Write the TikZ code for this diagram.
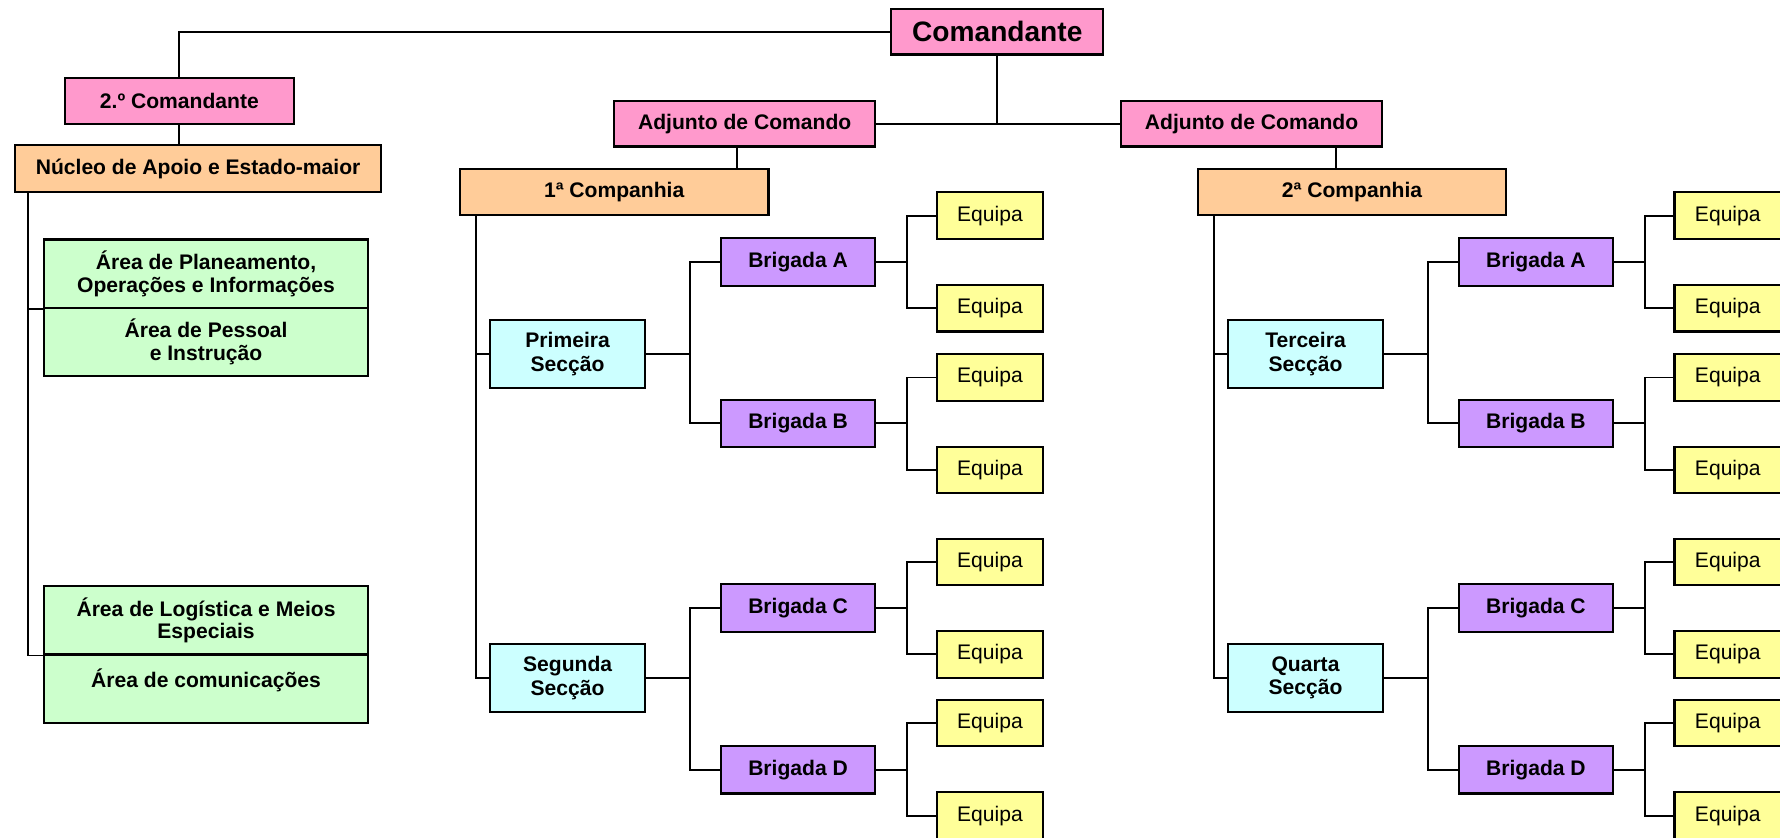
\documentclass[tikz,border=0pt]{standalone}
\usepackage{fontspec}
\setmainfont{Liberation Sans}
\definecolor{pinkbox}{HTML}{FF99CC}
\definecolor{orangebox}{HTML}{FFCC99}
\definecolor{greenbox}{HTML}{CCFFCC}
\definecolor{cyanbox}{HTML}{CCFFFF}
\definecolor{purplebox}{HTML}{CC99FF}
\definecolor{yellowbox}{HTML}{FFFF99}
\begin{document}
\begin{tikzpicture}[
    x=0.022704cm, y=-0.022704cm,
    box/.style={rectangle, draw=black, line width=1.2pt, inner sep=1pt, align=center,
        font=\fontsize{12}{13.5}\selectfont\bfseries},
    chefe/.style={box, fill=pinkbox, minimum height=0.908cm},
    nucleo/.style={box, fill=orangebox, minimum width=7.333cm, minimum height=0.931cm},
    area/.style={box, fill=greenbox, minimum width=6.471cm, minimum height=1.362cm,
        font=\fontsize{12}{13}\selectfont\bfseries},
    comp/.style={box, fill=orangebox, minimum width=6.175cm, minimum height=0.908cm},
    sec/.style={box, fill=cyanbox, minimum width=3.088cm, minimum height=1.362cm},
    brig/.style={box, fill=purplebox, minimum width=3.088cm, minimum height=0.954cm},
    eq/.style={box, fill=yellowbox, minimum width=2.134cm, minimum height=0.931cm,
        font=\fontsize{12}{13.5}\selectfont},
    line/.style={line width=1.1pt}
]
    \clip (0,0) rectangle (1568,738);

    % Command
    \node[chefe, minimum width=4.246cm, font=\fontsize{16}{18}\selectfont\bfseries] (cmd) at (878.5,28) {Comandante};
    \node[chefe, minimum width=4.586cm] (cmd2) at (158,89) {2.º Comandante};
    \node[chefe, minimum width=5.222cm] (adj1) at (656,109) {Adjunto de Comando};
    \node[chefe, minimum width=5.222cm] (adj2) at (1102.5,109) {Adjunto de Comando};

    \draw[line] (cmd.west) -| (cmd2.north);
    \draw[line] (adj1.east) -- (adj2.west);
    \draw[line] (cmd.south) -- (cmd.south |- adj1.east);

    % Support staff
    \node[nucleo] (nuc) at (174.5,148.5) {Núcleo de Apoio e Estado-maior};
    \node[area] (plan) at (181.5,241) {Área de Planeamento,\\Operações e Informações};
    \node[area] (pess) at (181.5,301) {Área de Pessoal\\e Instrução};
    \node[area] (logi) at (181.5,546.5) {Área de Logística e Meios\\Especiais};
    \node[area] (comu) at (181.5,607) {Área de comunicações\\\mbox{}};

    \draw[line] (cmd2.south) -- (cmd2.south |- nuc.north);
    \coordinate (sp0) at (25,169);
    \draw[line] (sp0) |- (logi.south west);
    \draw[line] (plan.south west) -- (plan.south west -| sp0);

    % Adjuntos to companhias
    \coordinate (a1) at (649,0);
    \coordinate (a2) at (1177,0);

    % 1st company
    \begin{scope}
        \node[comp] (comp1) at (541,169) {1ª Companhia};
        \node[sec] (sec1) at (500,312) {Primeira\\Secção};
        \node[sec] (sec2) at (500,597) {Segunda\\Secção};

        \node[brig] (brA1) at (703,231) {Brigada A};
        \node[brig] (brB1) at (703,373) {Brigada B};
        \node[brig] (brC1) at (703,535.5) {Brigada C};
        \node[brig] (brD1) at (703,678) {Brigada D};

        \node[eq] (eq11) at (872,190) {Equipa};
        \node[eq] (eq12) at (872,271.5) {Equipa};
        \node[eq] (eq13) at (872,332.5) {Equipa};
        \node[eq] (eq14) at (872,414) {Equipa};
        \node[eq] (eq15) at (872,495) {Equipa};
        \node[eq] (eq16) at (872,576.5) {Equipa};
        \node[eq] (eq17) at (872,637) {Equipa};
        \node[eq] (eq18) at (872,718.5) {Equipa};

        \coordinate (sp1) at (419,189);
        \draw[line] (sp1) |- (sec2.west);
        \draw[line] (sec1.west) -- (sec1.west -| sp1);

        \draw[line] (sec1.east) -- ++(39,0) coordinate (j11);
        \draw[line] (brA1.west) -| (j11) |- (brB1.west);
        \draw[line] (sec2.east) -- ++(39,0) coordinate (j12);
        \draw[line] (brC1.west) -| (j12) |- (brD1.west);

        \draw[line] (brA1.east) -- ++(27,0) coordinate (k11);
        \draw[line] (eq11.west) -| (k11) |- (eq12.west);
        \draw[line] (brB1.east) -- ++(27,0) coordinate (k12);
        \draw[line] (eq13.west) -| (k12) |- (eq14.west);
        \draw[line] (brC1.east) -- ++(27,0) coordinate (k13);
        \draw[line] (eq15.west) -| (k13) |- (eq16.west);
        \draw[line] (brD1.east) -- ++(27,0) coordinate (k14);
        \draw[line] (eq17.west) -| (k14) |- (eq18.west);
    \end{scope}

    % 2nd company
    \begin{scope}[xshift=14.758cm]
        \node[comp] (comp2) at (541,169) {2ª Companhia};
        \node[sec] (sec3) at (500,312) {Terceira\\Secção};
        \node[sec] (sec4) at (500,597) {Quarta\\Secção};

        \node[brig] (brA2) at (703,231) {Brigada A};
        \node[brig] (brB2) at (703,373) {Brigada B};
        \node[brig] (brC2) at (703,535.5) {Brigada C};
        \node[brig] (brD2) at (703,678) {Brigada D};

        \node[eq] (eq21) at (872,190) {Equipa};
        \node[eq] (eq22) at (872,271.5) {Equipa};
        \node[eq] (eq23) at (872,332.5) {Equipa};
        \node[eq] (eq24) at (872,414) {Equipa};
        \node[eq] (eq25) at (872,495) {Equipa};
        \node[eq] (eq26) at (872,576.5) {Equipa};
        \node[eq] (eq27) at (872,637) {Equipa};
        \node[eq] (eq28) at (872,718.5) {Equipa};

        \coordinate (sp2) at (419,189);
        \draw[line] (sp2) |- (sec4.west);
        \draw[line] (sec3.west) -- (sec3.west -| sp2);

        \draw[line] (sec3.east) -- ++(39,0) coordinate (j21);
        \draw[line] (brA2.west) -| (j21) |- (brB2.west);
        \draw[line] (sec4.east) -- ++(39,0) coordinate (j22);
        \draw[line] (brC2.west) -| (j22) |- (brD2.west);

        \draw[line] (brA2.east) -- ++(27,0) coordinate (k21);
        \draw[line] (eq21.west) -| (k21) |- (eq22.west);
        \draw[line] (brB2.east) -- ++(27,0) coordinate (k22);
        \draw[line] (eq23.west) -| (k22) |- (eq24.west);
        \draw[line] (brC2.east) -- ++(27,0) coordinate (k23);
        \draw[line] (eq25.west) -| (k23) |- (eq26.west);
        \draw[line] (brD2.east) -- ++(27,0) coordinate (k24);
        \draw[line] (eq27.west) -| (k24) |- (eq28.west);
    \end{scope}

    \draw[line] (adj1.south -| a1) -- (comp1.north -| a1);
    \draw[line] (adj2.south -| a2) -- (comp2.north -| a2);
\end{tikzpicture}
\end{document}
